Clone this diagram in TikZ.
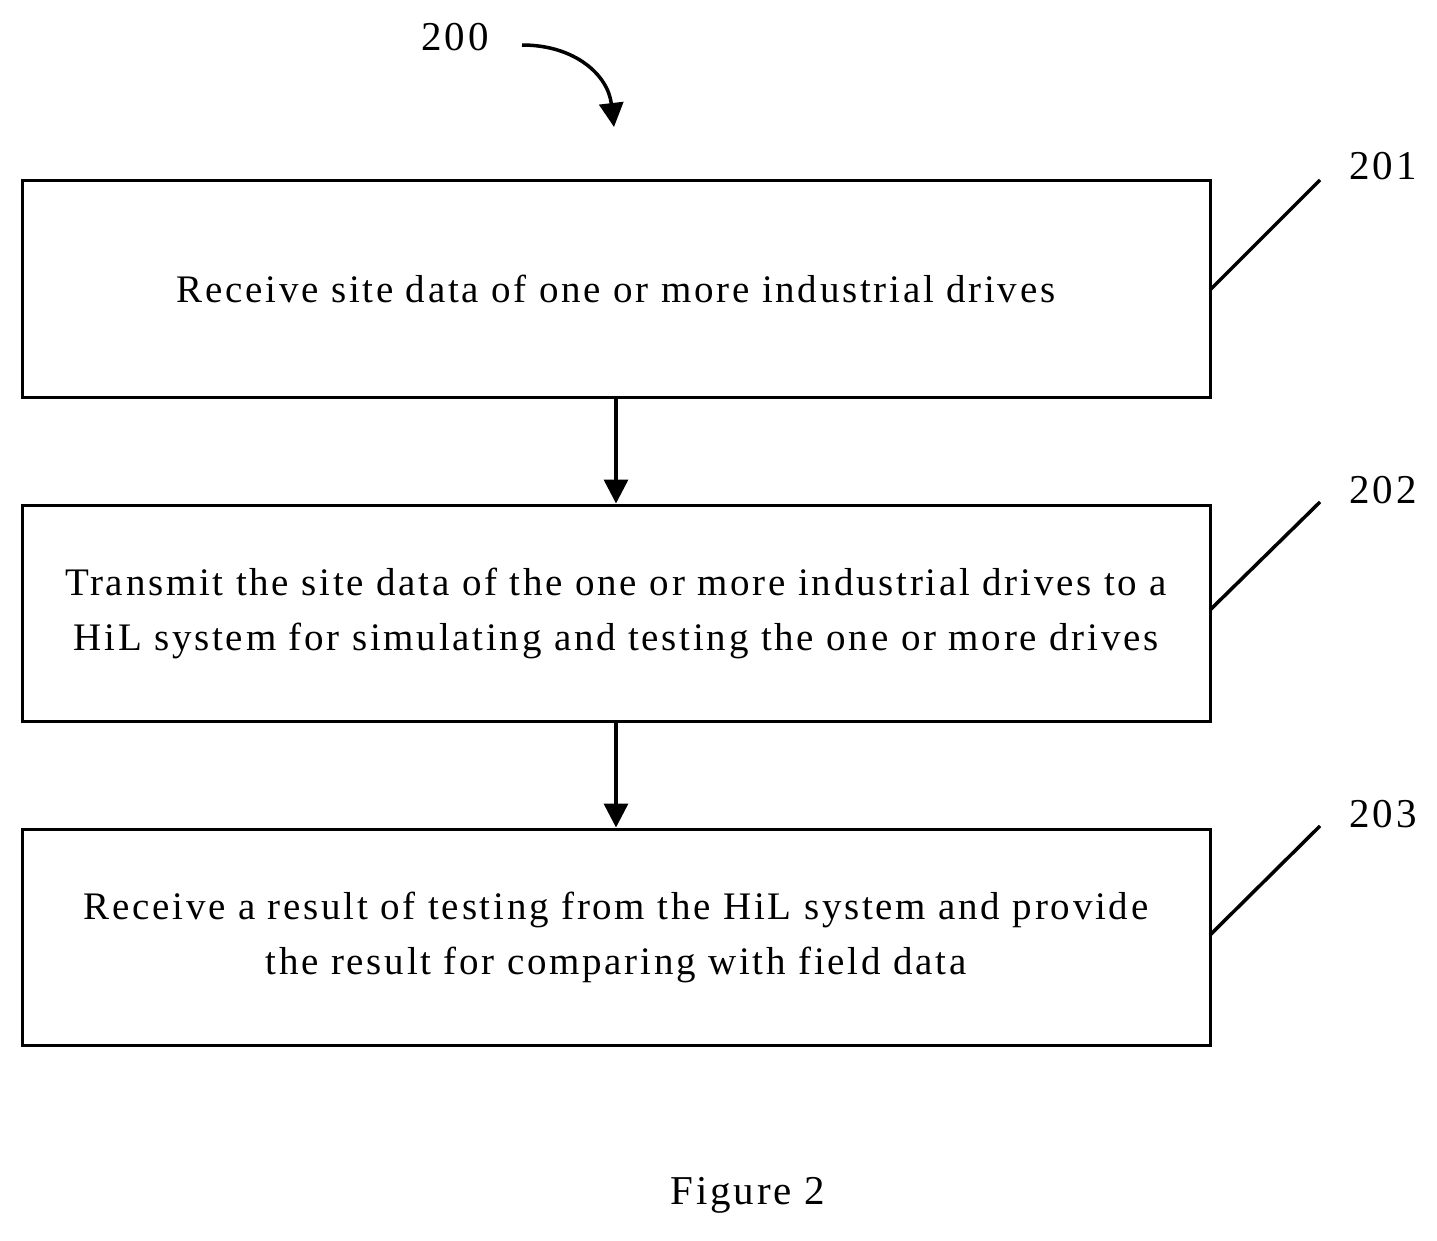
\documentclass[tikz,border=0pt]{standalone}
\usepackage{fontspec}
\setmainfont{Liberation Serif}[LetterSpace=7]
\usetikzlibrary{arrows.meta}
\begin{document}
\begin{tikzpicture}[x=1pt,y=-1pt,
  box/.style={draw,line width=3pt,minimum width=1188pt,minimum height=216pt,align=center,inner sep=0pt,font=\fontsize{39}{55}\selectfont},
  lbl/.style={font=\fontsize{41}{44}\selectfont,inner sep=0pt},
  arr/.style={line width=3.5pt,-{Triangle[length=24pt,width=24pt]}},
  lead/.style={line width=3.5pt}]
\useasboundingbox (0,0) rectangle (1437,1241);
\node[box] (b1) at (616,289) {Receive site data of one or more industrial drives};
\node[box] (b2) at (616,613) {Transmit the site data of the one or more industrial drives to a\\HiL system for simulating and testing the one or more drives};
\node[box] (b3) at (616,937) {Receive a result of testing from the HiL system and provide\\the result for comparing with field data};
\draw[arr] (b1.south) -- (b2.north);
\draw[arr] (b2.south) -- (b3.north);
\node[lbl] (n200) at (455,37) {200};
\coordinate (c0) at (522,45);
\coordinate (c1) at (614,127);
\draw[arr] (c0) .. controls (575,45) and (608,75) .. (c1);
\node[lbl] (n201) at (1383,166) {201};
\node[lbl] (n202) at (1383,490) {202};
\node[lbl] (n203) at (1383,814) {203};
\coordinate (t1) at (1320,180);
\coordinate (t2) at (1320,502);
\coordinate (t3) at (1320,826);
\draw[lead] (1210,290) -- (t1);
\draw[lead] (1210,610) -- (t2);
\draw[lead] (1210,935) -- (t3);
\node[lbl] (fig) at (748,1195) {Figure 2};
\end{tikzpicture}
\end{document}
